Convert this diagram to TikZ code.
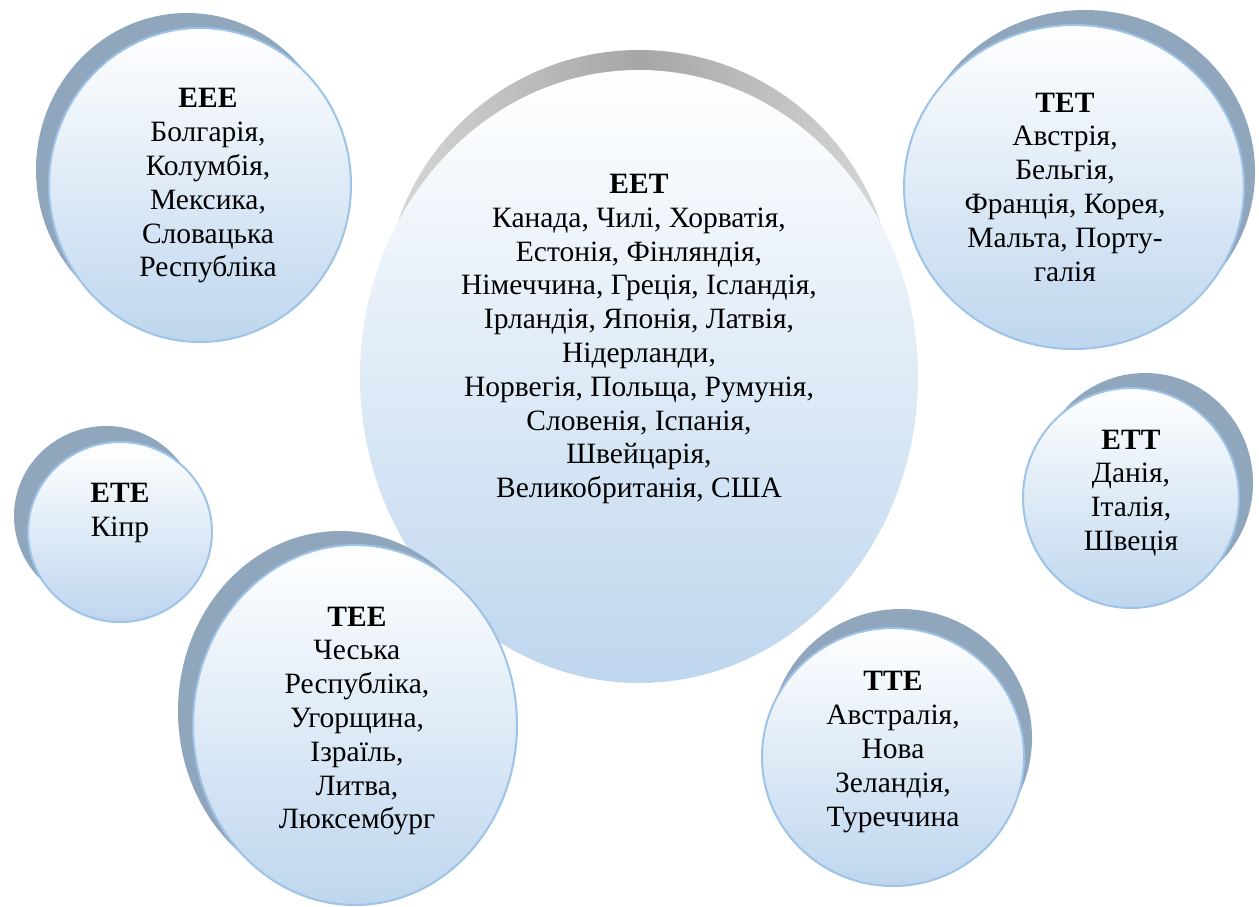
\documentclass[tikz,border=0pt]{standalone}
\usepackage{fontspec}
\setmainfont{Liberation Serif}
\definecolor{bordc}{RGB}{157,195,230}
\definecolor{fillc}{RGB}{190,214,238}
\definecolor{shadc}{RGB}{143,166,188}
\tikzset{
  bubfill/.style={top color=white, bottom color=fillc, draw=bordc, line width=2pt},
  bubshadow/.style={fill=shadc},
  lbl/.style={align=center, inner sep=0pt, font=\fontsize{29.5}{33.8}\selectfont}
}
\newcommand\bubdraw[6]{%
  \fill[bubshadow] ({#1+#5},{#2+#6}) ellipse [x radius=#3pt, y radius=#4pt];
  \path[bubfill] (#1,#2) ellipse [x radius=#3pt, y radius=#4pt];
}
\begin{document}
\begin{tikzpicture}[x=1pt,y=-1pt]
\useasboundingbox (0,0) rectangle (1259,906);
% central ellipse with gray crescent
\path[left color=gray!30, right color=gray!30, middle color=gray!70] (639,305) circle [radius=255pt];
\path[top color=white, bottom color=fillc] (639,376.5) ellipse [x radius=279pt, y radius=306.5pt];
% bubbles
\bubdraw{200}{185}{151}{157}{-13}{-15}
\bubdraw{1074}{187}{170}{162}{11}{-15}
\bubdraw{120}{532}{92}{90}{-14}{-16}
\bubdraw{1131}{498}{108}{110}{14}{-15}
\bubdraw{355}{725}{162}{180}{-15}{-14}
\bubdraw{893}{757}{131}{129}{8}{-19}
% texts
\node[lbl] (eee) at (208,186) {\textbf{ЕЕЕ}\\Болгарія,\\Колумбія,\\Мексика,\\Словацька\\Республіка};
\node[lbl] (eet) at (639,339) {\textbf{ЕЕТ}\\Канада, Чилі, Хорватія,\\Естонія, Фінляндія,\\Німеччина, Греція, Ісландія,\\Ірландія, Японія, Латвія,\\Нідерланди,\\Норвегія, Польща, Румунія,\\Словенія, Іспанія,\\Швейцарія,\\Великобританія, США};
\node[lbl] (tet) at (1065,187) {\textbf{ТЕТ}\\Австрія,\\Бельгія,\\Франція, Корея,\\Мальта, Порту-\\галія};
\node[lbl] (ete) at (120,513) {\textbf{ЕТЕ}\\Кіпр};
\node[lbl] (ett) at (1131,493) {\textbf{ЕТТ}\\Данія,\\Італія,\\Швеція};
\node[lbl] (tee) at (357,721) {\textbf{ТЕЕ}\\Чеська\\Республіка,\\Угорщина,\\Ізраїль,\\Литва,\\Люксембург};
\node[lbl] (tte) at (893,752) {\textbf{ТТЕ}\\Австралія,\\Нова\\Зеландія,\\Туреччина};
\end{tikzpicture}
\end{document}
